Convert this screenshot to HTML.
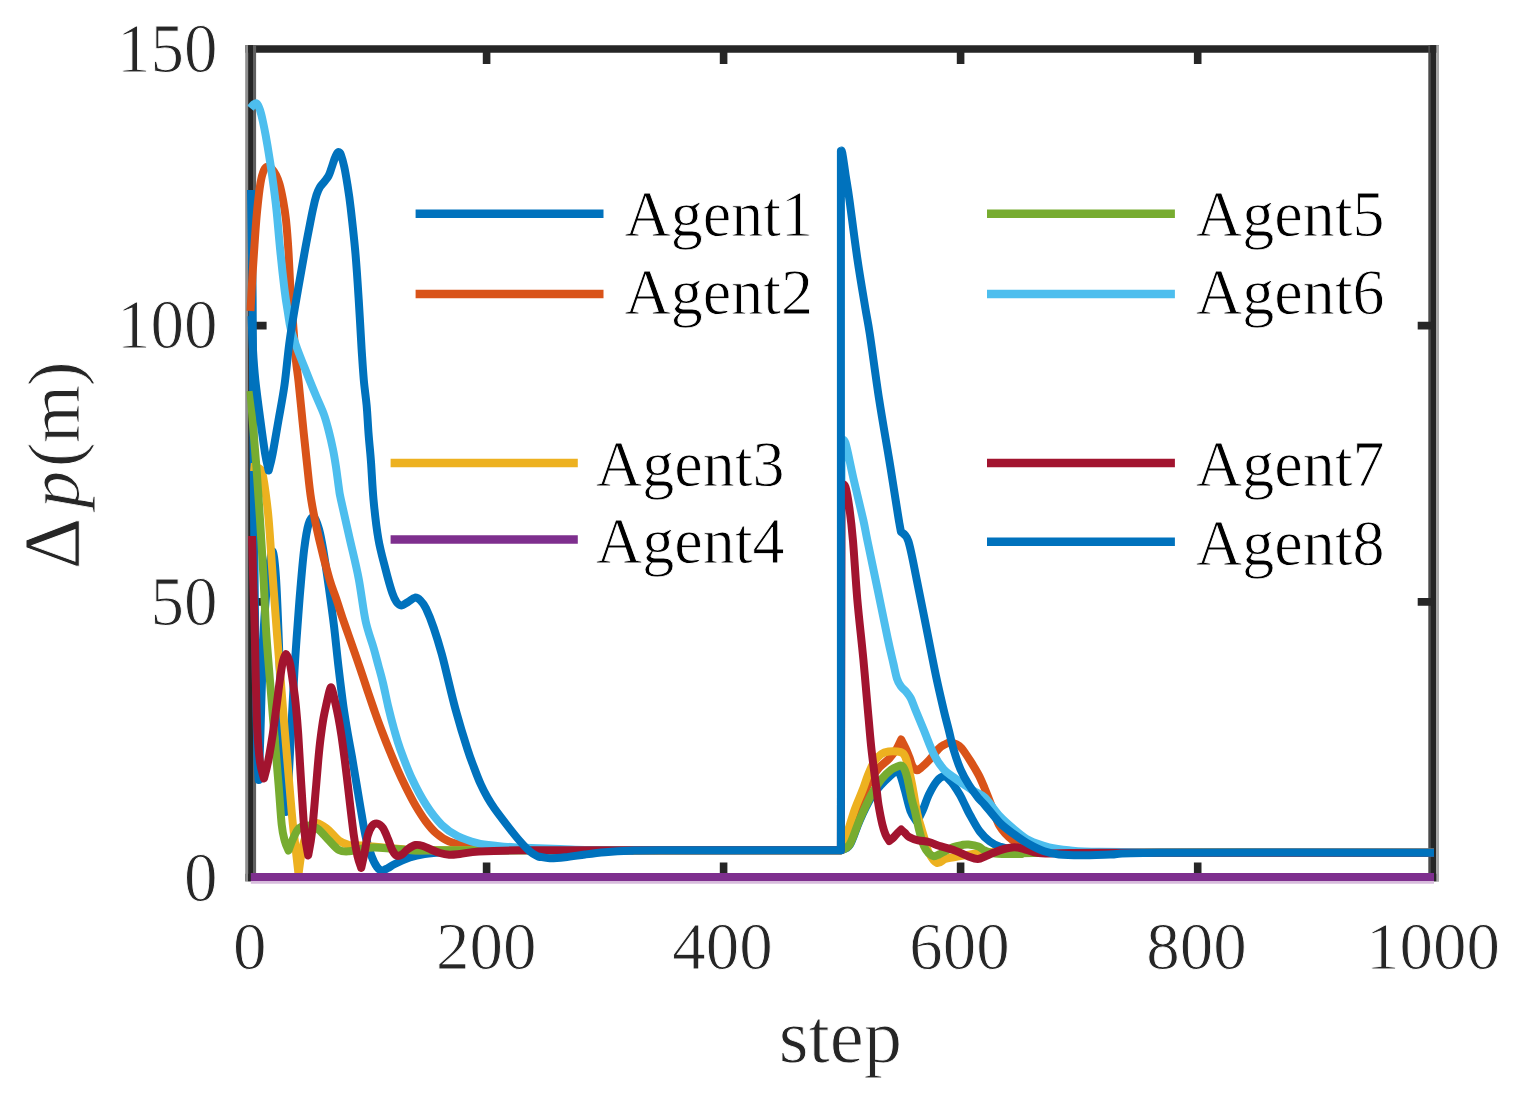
<!DOCTYPE html>
<html lang="en">
<head>
<meta charset="utf-8">
<title>Agent position error vs step</title>
<style>
html,body{margin:0;padding:0;background:#fff;}
body{width:1517px;height:1102px;overflow:hidden;font-family:"Liberation Serif","Times New Roman",serif;}
svg{display:block;filter:blur(0.6px);}
</style>
</head>
<body>
<svg width="1517" height="1102" viewBox="0 0 1517 1102">
<rect width="1517" height="1102" fill="#fff"/>
<g id="axes" fill="none" stroke="#262626">
<path d="M245.2 49H1439M245.2 877.5H1439" stroke-width="7.6"/>
<g stroke="none">
<rect x="245.2" y="45.2" width="3" height="836.1" fill="#8f8f8f"/>
<rect x="248.1" y="45.2" width="5" height="836.1" fill="#262626"/>
<rect x="253" y="45.2" width="3.1" height="836.1" fill="#606060"/>
<rect x="1428.3" y="45.2" width="2" height="836.1" fill="#4a4a4a"/>
<rect x="1430.2" y="45.2" width="6.2" height="836.1" fill="#262626"/>
<rect x="1436.3" y="45.2" width="2.7" height="836.1" fill="#a8a8a8"/>
</g>
<path d="M486.6 49.0 v15.0 M486.6 877.5 v-15.0 M723.6 49.0 v15.0 M723.6 877.5 v-15.0 M960.6 49.0 v15.0 M960.6 877.5 v-15.0 M1197.7 49.0 v15.0 M1197.7 877.5 v-15.0 M250.6 325.6 h16.0 M1433.7 325.6 h-16.0 M250.6 601.9 h16.0 M1433.7 601.9 h-16.0" stroke-width="7.6"/>
</g>
<g id="curves" fill="none" stroke-width="8" stroke-linejoin="round" stroke-linecap="butt">
<path id="agent1" stroke="#0072BD" d="M251.0 190.0C251.3 208.3 252.2 256.7 252.6 300.0C253.0 343.3 253.1 400.0 253.5 450.0C253.9 500.0 254.4 558.3 254.8 600.0C255.2 641.7 255.8 673.3 256.2 700.0C256.6 726.7 257.1 746.7 257.5 760.0C257.9 773.3 258.5 776.7 258.7 780.0L258.7 780.0C258.9 776.2 259.3 764.7 259.6 757.0C259.9 749.3 260.0 746.8 260.4 734.0C260.8 721.2 261.4 698.2 262.0 680.0C262.6 661.8 263.2 640.8 264.0 625.0C264.8 609.2 266.0 595.7 267.0 585.0C268.0 574.3 269.0 566.5 270.0 561.0C271.0 555.5 272.0 549.2 273.0 552.0C274.0 554.8 275.0 563.3 276.0 578.0C277.0 592.7 277.8 614.7 278.8 640.0C279.8 665.3 280.9 705.0 281.8 730.0C282.8 755.0 283.8 776.3 284.5 790.0C285.2 803.7 285.8 808.3 286.0 812.0L286.0 812.0C286.3 808.3 287.2 803.0 288.0 790.0C288.8 777.0 289.9 754.0 291.0 734.0C292.1 714.0 293.4 688.2 294.5 670.0C295.6 651.8 296.6 638.3 297.6 625.0C298.6 611.7 299.2 602.7 300.3 590.0C301.4 577.3 302.8 560.0 304.2 549.0C305.6 538.0 307.0 529.3 308.6 524.0C310.2 518.7 312.3 516.2 314.0 517.0C315.7 517.8 317.5 523.7 319.0 529.0C320.5 534.3 321.4 539.1 323.1 549.0C324.8 558.9 327.2 575.7 329.0 588.5C330.8 601.3 332.4 612.9 334.0 626.0C335.6 639.1 336.9 653.5 338.5 667.0C340.1 680.5 341.9 695.7 343.5 707.0C345.1 718.3 346.6 726.7 348.0 735.0C349.4 743.3 350.6 748.7 352.0 757.0C353.4 765.3 355.1 775.4 356.7 785.0C358.3 794.6 360.1 805.9 361.7 814.7C363.2 823.5 364.4 831.1 366.0 838.0C367.6 844.9 369.7 851.2 371.5 856.0C373.3 860.8 375.2 864.6 377.0 867.0C378.8 869.4 380.2 870.3 382.0 870.5C383.8 870.7 385.9 869.1 388.0 868.0C390.1 866.9 391.2 865.8 394.8 864.0C398.4 862.2 404.8 859.2 409.7 857.5C414.6 855.8 418.6 854.9 424.5 854.0C430.4 853.1 437.4 852.5 445.0 852.0C452.6 851.5 457.5 851.3 470.0 851.0C482.5 850.7 481.7 850.4 520.0 850.3C558.3 850.2 646.5 850.3 700.0 850.3C753.5 850.3 817.4 850.3 840.9 850.3L840.9 850.3C842.4 849.4 846.7 850.0 849.8 845.0C852.9 840.0 856.1 828.5 859.7 820.5C863.3 812.5 867.9 803.0 871.5 797.0C875.1 791.0 878.3 788.0 881.4 784.5C884.5 781.0 887.7 778.1 890.0 776.0C892.3 773.9 893.6 772.8 895.0 772.0C896.4 771.2 897.8 771.2 898.3 771.0L898.3 771.0C898.8 772.0 899.9 773.8 901.0 777.0C902.1 780.2 903.2 784.3 904.8 790.0C906.4 795.7 908.5 805.7 910.5 811.0C912.5 816.3 915.9 820.2 917.0 822.0L917.0 822.0C918.0 820.0 921.0 814.3 923.0 809.7C925.0 805.1 926.6 799.2 928.9 794.5C931.2 789.8 934.3 784.2 936.8 781.2C939.3 778.2 941.7 776.6 943.7 776.3C945.7 776.0 947.4 778.0 949.0 779.5C950.6 781.0 951.8 782.4 953.6 785.0C955.4 787.6 958.1 791.7 960.0 795.0C961.9 798.3 963.3 801.7 965.0 805.0C966.7 808.3 967.5 810.6 970.0 815.0C972.5 819.4 976.5 827.1 979.8 831.5C983.1 835.9 986.4 838.9 989.7 841.4C993.0 843.9 994.6 844.9 999.6 846.5C1004.6 848.1 1009.9 850.0 1020.0 851.0C1030.1 852.0 1030.0 852.4 1060.0 852.7C1090.0 853.0 1137.7 852.7 1200.0 852.7C1262.3 852.7 1395.0 852.7 1434.0 852.7"/>
<path id="agent2" stroke="#D95319" d="M250.5 311.0C250.8 305.0 251.8 286.0 252.5 275.0C253.2 264.0 253.8 255.5 254.5 245.0C255.2 234.5 256.0 222.3 257.0 212.0C258.0 201.7 259.3 190.0 260.5 183.0C261.7 176.0 262.8 172.7 264.0 170.0C265.2 167.3 266.4 166.8 267.7 166.6C269.0 166.4 270.6 167.6 272.0 169.0C273.4 170.4 274.8 172.5 276.0 175.0C277.2 177.5 278.3 179.8 279.5 184.0C280.7 188.2 281.9 194.0 283.0 200.0C284.1 206.0 285.1 211.3 286.0 220.0C286.9 228.7 287.8 240.3 288.5 252.0C289.2 263.7 289.7 277.2 290.5 290.0C291.3 302.8 292.6 317.2 293.5 329.0C294.4 340.8 295.1 352.2 296.0 361.0C296.9 369.8 297.5 372.0 298.6 382.0C299.7 392.0 301.2 408.0 302.5 421.0C303.8 434.0 305.2 446.9 306.6 460.0C308.1 473.1 309.1 486.4 311.2 499.6C313.3 512.8 316.1 525.9 319.1 539.1C322.1 552.3 326.5 568.9 329.3 578.7C332.1 588.5 333.8 591.5 336.0 598.0C338.2 604.5 340.3 611.6 342.5 618.0C344.7 624.4 346.8 630.3 349.0 636.5C351.2 642.7 353.3 648.8 355.5 655.0C357.7 661.2 359.8 667.6 362.0 674.0C364.2 680.4 366.3 687.1 368.5 693.5C370.7 699.9 372.8 706.2 375.0 712.5C377.2 718.8 379.6 725.2 382.0 731.5C384.4 737.8 386.9 744.2 389.5 750.5C392.1 756.8 394.8 763.3 397.5 769.5C400.2 775.7 403.0 781.5 406.0 787.5C409.0 793.5 412.2 799.9 415.5 805.5C418.8 811.1 422.1 816.4 425.5 821.0C428.9 825.6 432.1 829.6 436.0 833.0C439.9 836.4 443.7 839.3 449.2 841.4C454.7 843.5 460.5 844.6 469.0 845.8C477.5 847.0 484.8 847.8 500.0 848.5C515.2 849.2 503.2 850.0 560.0 850.3C616.8 850.6 794.1 850.3 840.9 850.3L840.9 850.3C842.1 848.2 845.5 844.0 848.0 838.0C850.5 832.0 853.3 821.3 856.0 814.0C858.7 806.7 861.5 799.8 864.0 794.0C866.5 788.2 868.4 783.4 871.0 779.0C873.6 774.6 876.4 770.8 879.4 767.4C882.4 764.0 886.4 761.6 889.3 758.5C892.1 755.4 894.5 752.2 896.5 749.0C898.5 745.8 900.4 741.1 901.2 739.5L901.2 739.5C901.9 740.9 904.1 745.1 905.5 748.0C906.9 750.9 908.1 754.0 909.3 757.0C910.5 760.0 911.2 763.8 912.5 766.0C913.8 768.2 915.4 770.1 917.0 770.3C918.6 770.5 920.0 768.6 922.0 767.0C924.0 765.4 926.1 763.5 928.9 760.4C931.7 757.3 936.2 751.2 938.8 748.6C941.4 746.0 942.8 745.5 944.7 744.5C946.6 743.5 948.1 742.6 950.0 742.5C951.9 742.4 954.1 743.1 956.0 744.0C957.9 744.9 959.1 745.2 961.5 748.0C963.9 750.8 967.6 756.6 970.4 761.0C973.2 765.4 976.0 770.0 978.4 774.5C980.8 779.0 982.3 782.8 984.5 788.0C986.7 793.2 989.0 799.2 991.5 805.5C994.0 811.8 996.1 820.2 999.6 826.0C1003.1 831.8 1007.3 836.3 1012.4 840.0C1017.5 843.7 1023.7 846.1 1030.0 848.0C1036.3 849.9 1038.3 850.7 1050.0 851.5C1061.7 852.3 1036.0 852.5 1100.0 852.7C1164.0 852.9 1378.3 852.7 1434.0 852.7"/>
<path id="agent3" stroke="#EDB120" d="M250.5 467.0C251.6 467.1 255.1 466.7 257.0 467.5C258.9 468.3 260.6 467.9 262.0 472.0C263.4 476.1 264.4 484.0 265.5 492.0C266.6 500.0 267.5 506.2 268.7 520.0C269.9 533.8 271.3 556.8 272.6 575.0C273.9 593.2 275.3 611.9 276.6 629.0C277.9 646.1 279.1 660.7 280.5 677.5C281.9 694.3 283.2 712.1 284.7 730.0C286.2 747.9 288.1 770.1 289.4 785.0C290.7 799.9 291.4 809.1 292.4 819.6C293.4 830.1 294.6 838.9 295.6 848.0C296.6 857.1 298.0 869.7 298.5 874.0L298.5 874.0C299.1 870.0 300.8 856.2 302.0 850.0C303.2 843.8 304.0 841.0 305.5 837.0C307.0 833.0 309.1 828.3 311.0 826.0C312.9 823.7 315.0 823.0 317.0 823.0C319.0 823.0 321.0 824.8 323.0 826.0C325.0 827.2 326.4 828.1 329.0 830.5C331.6 832.9 335.6 838.0 338.9 840.4C342.2 842.8 345.0 843.9 348.8 844.8C352.6 845.6 353.2 844.8 361.7 845.5C370.2 846.2 385.3 848.2 400.0 849.0C414.7 849.8 376.5 850.1 450.0 850.3C523.5 850.5 775.8 850.3 840.9 850.3L840.9 850.3C841.9 847.7 844.5 841.3 846.8 834.5C849.1 827.7 852.1 817.1 854.7 809.7C857.3 802.3 860.5 795.6 862.6 790.0C864.8 784.4 865.7 780.7 867.6 776.0C869.5 771.3 871.7 765.7 874.0 762.0C876.3 758.3 878.9 755.8 881.4 754.0C883.9 752.2 886.4 751.9 889.0 751.5C891.6 751.1 894.6 751.2 897.0 751.5C899.4 751.8 901.6 752.0 903.2 753.5C904.8 755.0 905.3 756.2 906.6 760.5C907.9 764.8 909.8 773.6 911.0 779.2C912.2 784.8 912.8 788.2 913.8 794.0C914.8 799.8 916.1 808.3 917.3 813.8C918.5 819.3 919.8 823.0 921.0 827.0C922.2 831.0 923.0 833.7 924.3 838.0C925.6 842.3 926.9 848.8 929.0 853.0C931.1 857.2 934.3 862.0 937.0 863.0C939.7 864.0 942.2 860.0 945.0 859.0C947.8 858.0 948.4 858.1 953.6 857.2C958.8 856.3 968.7 854.4 976.4 853.5C984.1 852.6 979.4 852.1 1000.0 852.0C1020.6 851.9 1027.7 852.6 1100.0 852.7C1172.3 852.8 1378.3 852.7 1434.0 852.7"/>
<path id="agent4" stroke="#7E2F8E" d="M250.8 877.0C448.0 877.0 1236.8 877.0 1434.0 877.0"/>
<path id="agent5" stroke="#77AC30" d="M250.5 391.0C250.9 396.7 252.0 412.2 253.0 425.0C254.0 437.8 255.3 452.2 256.5 468.0C257.7 483.8 258.8 501.2 260.0 519.5C261.2 537.8 262.5 559.8 263.5 578.0C264.5 596.2 265.0 612.4 266.0 629.0C267.0 645.6 268.4 660.7 269.7 677.5C271.0 694.3 272.5 712.1 274.0 730.0C275.5 747.9 277.3 769.2 278.6 785.0C279.9 800.8 280.7 815.3 281.7 824.6C282.7 833.9 283.7 836.7 284.8 841.0C285.9 845.3 287.9 848.9 288.5 850.5L288.5 850.5C289.2 848.8 291.0 843.4 292.5 840.0C294.0 836.6 295.9 832.2 297.5 830.0C299.1 827.8 300.4 827.2 302.0 826.5C303.6 825.8 305.2 825.5 307.0 825.5C308.8 825.5 311.1 825.8 313.0 826.5C314.9 827.2 316.8 828.1 318.6 829.5C320.4 830.9 322.3 833.2 324.0 835.0C325.7 836.8 326.5 837.9 329.0 840.4C331.5 842.9 335.6 848.2 338.9 850.0C342.2 851.8 345.3 851.5 348.8 851.3C352.3 851.1 355.9 849.6 360.0 849.0C364.1 848.4 369.1 847.6 373.5 847.5C377.9 847.4 378.6 847.8 386.4 848.3C394.1 848.8 407.7 850.2 420.0 850.5C432.3 850.8 389.9 850.3 460.0 850.3C530.1 850.3 777.4 850.3 840.9 850.3L840.9 850.3C842.4 849.3 846.7 849.4 849.8 844.3C852.9 839.2 856.1 827.9 859.7 819.6C863.3 811.3 867.9 801.2 871.5 794.5C875.1 787.8 878.1 783.4 881.4 779.2C884.7 775.1 888.6 771.7 891.3 769.6C894.0 767.5 895.8 767.2 897.5 766.5C899.2 765.8 900.4 765.0 901.6 765.6C902.8 766.2 903.8 767.7 904.8 770.0C905.8 772.3 906.5 774.5 907.6 779.2C908.7 783.9 910.2 792.8 911.4 798.0C912.6 803.2 913.5 805.2 914.8 810.5C916.1 815.8 917.5 823.5 919.0 829.5C920.5 835.5 922.3 842.3 924.0 846.3C925.7 850.3 927.4 851.9 929.0 853.5C930.6 855.1 932.2 856.0 933.9 856.2C935.6 856.4 937.4 855.2 939.0 854.5C940.6 853.8 941.3 853.2 943.7 852.0C946.1 850.8 950.6 848.2 953.6 847.0C956.6 845.8 959.5 845.4 962.0 845.0C964.5 844.6 965.8 844.2 968.5 844.5C971.2 844.8 975.7 845.5 978.4 846.5C981.1 847.5 981.9 849.3 984.7 850.5C987.5 851.7 989.1 852.9 995.0 853.5C1000.9 854.1 1009.2 854.1 1020.0 854.0C1030.8 853.9 991.0 852.9 1060.0 852.7C1129.0 852.5 1371.7 852.7 1434.0 852.7"/>
<path id="agent6" stroke="#4DBEEE" d="M250.5 108.2C251.0 107.6 252.4 105.3 253.5 104.5C254.6 103.7 255.7 102.6 256.8 103.5C257.9 104.4 259.0 106.9 260.0 110.0C261.0 113.1 262.1 117.8 263.0 122.0C263.9 126.2 264.7 130.0 265.7 135.5C266.7 141.0 267.9 147.8 269.0 155.0C270.1 162.2 271.4 169.8 272.6 179.0C273.9 188.2 275.3 198.5 276.5 210.0C277.7 221.5 278.7 234.7 280.0 248.0C281.3 261.3 283.2 278.8 284.5 289.6C285.8 300.4 286.9 306.4 288.0 313.0C289.1 319.6 289.2 323.0 290.8 329.0C292.4 335.0 294.5 341.3 297.3 349.0C300.1 356.7 304.4 367.1 307.5 375.0C310.6 382.9 313.4 389.6 316.2 396.3C319.0 403.0 322.0 409.1 324.1 415.0C326.2 420.9 327.5 426.2 329.0 432.0C330.5 437.8 331.8 443.7 333.0 449.5C334.2 455.3 335.0 460.4 336.0 467.0C337.0 473.6 338.2 483.6 339.0 489.0C339.8 494.4 339.1 491.2 340.9 499.6C342.7 508.0 346.8 525.9 349.8 539.1C352.8 552.3 356.1 565.1 358.7 578.7C361.3 592.4 363.1 609.5 365.6 621.0C368.1 632.5 371.5 640.5 373.6 648.0C375.8 655.5 376.9 660.2 378.5 666.0C380.1 671.8 381.4 676.2 383.0 683.0C384.6 689.8 386.5 699.3 388.3 707.0C390.1 714.7 392.0 722.0 394.0 729.0C396.0 736.0 397.2 740.8 400.2 749.1C403.2 757.4 407.7 769.6 412.0 778.8C416.3 788.0 420.9 796.8 425.9 804.5C430.8 812.2 436.4 819.5 441.7 824.8C447.0 830.0 451.6 833.0 457.5 836.0C463.4 839.0 470.7 841.3 477.3 843.0C483.9 844.7 490.5 845.2 497.1 846.0C503.7 846.8 506.4 847.0 516.9 847.5C527.4 848.0 542.8 848.5 560.0 849.0C577.2 849.5 573.2 850.1 620.0 850.3C666.8 850.5 804.1 850.3 840.9 850.3L840.9 850.3C841.0 782.1 841.4 509.2 841.5 441.0L841.5 441.0C842.2 441.3 843.5 436.8 845.5 443.0C847.5 449.2 850.4 465.5 853.4 478.3C856.4 491.1 860.9 509.6 863.3 520.0C865.6 530.5 865.1 529.4 867.5 541.0C869.9 552.6 874.2 573.1 877.6 589.4C881.0 605.7 885.1 626.5 887.8 638.9C890.4 651.3 892.0 657.4 893.5 664.0C895.0 670.6 895.7 674.7 896.9 678.4C898.1 682.1 899.4 684.1 900.9 686.3C902.4 688.5 904.4 689.5 906.0 691.5C907.6 693.5 909.1 695.1 910.7 698.2C912.3 701.3 913.3 704.7 915.5 710.0C917.7 715.3 920.6 722.4 923.7 729.8C926.8 737.2 930.6 747.9 933.9 754.5C937.2 761.1 940.4 765.5 943.7 769.3C947.0 773.1 950.3 774.8 953.6 777.3C956.9 779.8 960.4 782.1 963.5 784.2C966.6 786.3 968.5 787.8 972.0 790.0C975.5 792.2 980.1 793.2 984.7 797.5C989.3 801.8 994.7 810.7 999.6 816.0C1004.5 821.3 1009.5 825.4 1014.4 829.5C1019.3 833.6 1023.4 837.4 1029.2 840.4C1035.0 843.4 1042.4 845.6 1049.0 847.3C1055.6 848.9 1060.3 849.5 1068.8 850.3C1077.3 851.0 1078.1 851.4 1100.0 851.8C1121.9 852.2 1144.3 852.6 1200.0 852.7C1255.7 852.9 1395.0 852.7 1434.0 852.7"/>
<path id="agent7" stroke="#A2142F" d="M252.0 536.0C252.2 543.3 252.8 565.2 253.2 580.0C253.6 594.8 254.2 608.3 254.6 625.0C255.0 641.7 255.4 662.5 255.8 680.0C256.2 697.5 256.6 716.3 257.3 730.0C258.0 743.7 258.9 753.9 260.0 762.0C261.1 770.1 263.3 775.8 264.0 778.5L264.0 778.5C264.7 775.8 266.5 769.5 268.0 762.0C269.5 754.5 271.3 743.4 272.8 733.8C274.3 724.1 275.7 712.4 276.8 704.1C277.9 695.9 278.4 690.9 279.3 684.3C280.2 677.7 281.4 669.1 282.2 664.6C283.0 660.1 283.7 658.7 284.3 657.0C284.9 655.3 285.7 654.7 286.0 654.2L286.0 654.2C286.3 654.7 287.1 655.3 287.8 657.0C288.5 658.7 289.3 660.1 290.2 664.6C291.1 669.1 292.3 677.7 293.2 684.3C294.1 690.9 294.9 695.9 295.7 704.1C296.5 712.4 297.3 720.3 298.2 733.8C299.1 747.3 300.2 768.6 301.3 785.0C302.4 801.4 303.4 820.2 304.5 832.0C305.6 843.8 307.6 851.6 308.2 855.5L308.2 855.5C308.8 851.6 310.7 843.8 312.0 832.0C313.3 820.2 315.1 797.0 316.2 785.0C317.2 773.0 317.6 767.8 318.3 760.0C319.0 752.2 319.7 745.0 320.6 738.0C321.5 731.0 322.5 723.6 323.5 718.0C324.5 712.4 325.5 708.1 326.4 704.1C327.3 700.1 328.1 696.6 328.7 694.0C329.3 691.4 329.8 689.6 330.2 688.5C330.6 687.4 330.7 687.3 331.0 687.3C331.3 687.3 331.4 687.4 331.8 688.5C332.2 689.6 332.7 691.4 333.3 694.0C333.9 696.6 334.7 700.1 335.6 704.1C336.5 708.1 337.5 712.7 338.5 718.0C339.5 723.3 340.5 729.3 341.5 736.0C342.5 742.7 343.4 749.8 344.5 758.0C345.6 766.2 346.3 772.2 347.8 785.0C349.3 797.8 352.1 822.7 353.7 834.5C355.3 846.3 356.2 850.4 357.5 856.0C358.8 861.6 360.6 866.0 361.2 868.0L361.2 868.0C361.8 865.5 363.4 858.3 364.5 853.0C365.6 847.7 366.4 840.5 367.6 836.0C368.9 831.5 370.4 828.1 372.0 826.0C373.6 823.9 375.7 823.3 377.5 823.6C379.3 823.9 381.2 825.4 383.0 828.0C384.8 830.6 386.4 835.2 388.0 839.0C389.6 842.8 391.0 847.7 392.5 850.5C394.0 853.3 395.2 855.0 396.8 855.7C398.4 856.4 400.1 855.6 402.0 854.5C403.9 853.4 405.7 850.6 408.0 849.0C410.3 847.4 413.1 845.5 415.6 845.0C418.1 844.5 420.4 845.2 423.0 846.0C425.6 846.8 428.2 848.3 431.0 849.5C433.8 850.7 437.0 852.1 440.0 853.0C443.0 853.9 445.9 854.5 449.2 854.7C452.5 854.9 455.1 854.5 460.0 854.0C464.9 853.5 469.1 852.1 478.9 851.5C488.6 850.9 498.3 850.5 518.5 850.3C538.7 850.1 546.3 850.3 600.0 850.3C653.7 850.3 800.8 850.3 840.9 850.3L840.9 850.3C841.0 789.3 841.4 545.5 841.5 484.5L841.5 484.5C842.2 484.9 844.2 483.1 845.5 487.0C846.8 490.9 848.1 499.0 849.4 508.0C850.6 517.0 851.7 525.8 853.0 541.0C854.3 556.2 855.6 579.7 857.3 599.3C859.0 618.9 861.5 639.6 863.3 658.7C865.1 677.8 866.8 698.9 868.2 714.0C869.6 729.1 870.1 737.1 871.5 749.6C872.9 762.1 875.3 779.9 876.5 789.1C877.7 798.3 877.5 798.9 878.5 804.8C879.5 810.7 881.2 819.6 882.4 824.6C883.6 829.6 884.4 831.8 885.5 834.5C886.6 837.2 888.7 839.9 889.3 841.0L889.3 841.0C890.0 840.4 892.1 838.8 893.5 837.5C894.9 836.2 896.2 834.3 897.5 833.0C898.8 831.7 900.6 830.1 901.2 829.5L901.2 829.5C901.8 830.1 903.7 831.8 905.0 833.0C906.3 834.2 906.9 835.8 909.1 837.0C911.3 838.2 914.7 839.5 918.0 840.3C921.3 841.1 925.4 841.1 928.9 842.0C932.4 842.9 934.7 844.5 938.8 845.8C942.9 847.1 948.6 848.2 953.6 850.0C958.6 851.8 964.5 855.0 968.5 856.5C972.5 858.0 974.9 859.1 977.8 859.0C980.7 858.9 983.2 857.1 986.0 856.0C988.8 854.9 991.6 853.5 994.6 852.3C997.6 851.1 1000.7 849.8 1004.0 849.0C1007.3 848.2 1011.1 847.3 1014.4 847.3C1017.7 847.3 1020.7 848.2 1024.0 849.0C1027.3 849.8 1029.9 851.5 1034.2 852.3C1038.5 853.0 1039.0 853.4 1050.0 853.5C1061.0 853.6 1036.0 852.8 1100.0 852.7C1164.0 852.6 1378.3 852.7 1434.0 852.7"/>
<path id="agent8" stroke="#0072BD" d="M251.5 316.0C251.8 321.7 252.4 339.3 253.0 350.0C253.6 360.7 254.1 368.4 255.3 380.0C256.5 391.6 258.7 407.4 260.3 419.6C261.9 431.8 263.6 444.5 265.0 453.0C266.4 461.5 268.1 467.6 268.7 470.5L268.7 470.5C269.4 467.8 271.0 462.5 272.6 454.0C274.2 445.5 276.6 431.1 278.6 419.6C280.6 408.1 282.6 398.4 284.5 385.0C286.4 371.6 287.6 354.9 289.9 339.0C292.1 323.1 295.6 303.8 298.0 289.6C300.4 275.4 302.5 264.1 304.3 254.0C306.1 243.9 307.5 236.7 309.0 229.0C310.5 221.3 311.9 213.8 313.2 208.1C314.4 202.4 315.4 198.5 316.5 195.0C317.6 191.5 318.7 189.2 320.0 187.0C321.3 184.8 323.1 183.3 324.5 181.5C325.9 179.7 327.3 178.2 328.5 176.0C329.7 173.8 330.5 170.8 331.5 168.0C332.5 165.2 333.6 161.4 334.5 159.0C335.4 156.6 336.3 154.7 337.0 153.5C337.7 152.3 338.2 151.8 338.9 152.1C339.6 152.3 340.1 152.5 341.0 155.0C341.9 157.5 343.2 162.0 344.3 167.0C345.4 172.0 346.4 178.2 347.5 185.0C348.6 191.8 349.4 196.6 350.7 208.1C352.0 219.6 354.2 238.8 355.5 254.0C356.8 269.2 357.7 283.6 358.7 299.4C359.7 315.2 360.8 335.5 361.6 348.9C362.5 362.3 363.0 370.6 363.8 380.0C364.6 389.4 365.8 396.2 366.6 405.0C367.4 413.8 367.8 423.5 368.5 433.0C369.2 442.5 370.2 450.9 371.0 462.0C371.8 473.1 372.3 486.8 373.5 499.6C374.7 512.5 376.4 527.6 378.4 539.1C380.4 550.6 383.1 559.8 385.4 568.8C387.7 577.8 390.4 587.5 392.3 593.0C394.2 598.5 395.0 599.9 396.5 602.0C398.0 604.1 399.3 605.4 401.2 605.4C403.1 605.4 405.7 603.3 408.0 602.0C410.3 600.7 412.9 597.9 415.0 597.6C417.1 597.4 418.7 598.7 420.5 600.5C422.3 602.3 423.7 603.7 425.9 608.3C428.1 612.9 431.2 620.5 433.8 628.1C436.4 635.7 439.6 646.3 441.7 653.8C443.8 661.3 444.2 663.7 446.5 673.0C448.8 682.3 452.1 696.9 455.6 709.6C459.1 722.3 464.3 739.5 467.4 749.1C470.5 758.8 471.8 761.6 474.0 767.5C476.2 773.4 478.6 779.7 480.9 784.7C483.1 789.7 485.2 793.5 487.5 797.5C489.8 801.5 491.3 804.0 494.5 808.5C497.7 813.0 502.6 819.4 506.6 824.6C510.6 829.8 514.6 835.0 518.5 839.5C522.4 844.0 526.8 848.7 530.0 851.5C533.2 854.3 536.3 855.6 538.0 856.5C539.7 857.4 538.0 856.5 540.0 856.8C542.0 857.1 545.5 858.1 549.7 858.2C553.9 858.3 559.1 857.9 565.0 857.3C570.9 856.7 578.3 855.4 585.0 854.5C591.7 853.6 597.5 852.8 605.0 852.2C612.5 851.6 620.8 851.1 630.0 850.8C639.2 850.5 624.9 850.4 660.0 850.3C695.1 850.2 810.8 850.3 840.9 850.3L840.9 850.3C840.9 733.8 840.9 267.6 840.9 151.0L840.9 151.0C841.1 151.3 841.5 149.0 842.3 153.0C843.1 157.0 844.4 167.0 845.6 175.0C846.8 183.0 847.7 187.1 849.6 201.0C851.5 214.9 854.7 240.6 857.3 258.4C859.9 276.2 863.2 295.3 865.3 307.9C867.4 320.5 867.5 318.8 869.8 334.0C872.1 349.2 875.9 378.4 879.1 399.2C882.3 419.9 886.0 440.4 889.0 458.5C892.0 476.6 895.1 497.1 896.9 508.0C898.6 518.9 898.8 520.0 899.5 524.0C900.2 528.0 900.7 530.4 900.9 531.7L900.9 531.7C902.1 533.2 905.7 533.0 908.3 541.0C910.9 549.0 913.7 564.9 916.7 579.6C919.8 594.3 923.3 612.5 926.6 629.0C929.9 645.5 933.6 664.9 936.5 678.4C939.4 691.9 941.7 701.4 943.7 710.0C945.7 718.6 947.1 723.2 948.7 729.8C950.4 736.4 951.6 743.0 953.6 749.6C955.6 756.2 957.9 763.4 960.5 769.3C963.1 775.2 966.0 780.2 969.0 785.0C972.0 789.8 975.7 794.7 978.3 798.0C980.9 801.3 981.2 800.7 984.7 804.8C988.2 808.9 994.7 817.6 999.6 822.6C1004.5 827.6 1009.5 830.9 1014.4 834.5C1019.3 838.1 1024.2 841.5 1029.2 844.3C1034.2 847.1 1039.1 849.6 1044.1 851.3C1049.0 853.0 1052.9 853.8 1058.9 854.4C1064.9 855.0 1071.5 855.2 1080.0 855.2C1088.5 855.2 1096.7 854.9 1110.0 854.5C1123.3 854.1 1106.0 853.0 1160.0 852.7C1214.0 852.4 1388.3 852.7 1434.0 852.7"/>
</g>
<path d="M250.8 882.4H1434" stroke="#d7bcdc" stroke-width="2.6" fill="none"/>
<g id="legend" fill="none" stroke-width="8.5">
<path stroke="#0072BD" d="M415.6 213.7H603.5"/>
<path stroke="#D95319" d="M415.6 293.9H603.5"/>
<path stroke="#EDB120" d="M390.6 463.1H577.8"/>
<path stroke="#7E2F8E" d="M390.6 539.4H577.8"/>
<path stroke="#77AC30" d="M987.0 213.7H1174.9"/>
<path stroke="#4DBEEE" d="M987.0 294.1H1174.9"/>
<path stroke="#A2142F" d="M987.0 463.1H1174.9"/>
<path stroke="#0072BD" d="M987.0 541.8H1174.9"/>
</g>
<g id="legendtext" font-family="'Liberation Serif','Times New Roman',serif" font-size="66" fill="#000" stroke="#fff" stroke-width="0.9">
<text transform="translate(624.6 236.3) scale(0.97 1)">Agent1</text>
<text transform="translate(624.6 314.3) scale(0.97 1)">Agent2</text>
<text transform="translate(596.0 486.2) scale(0.97 1)">Agent3</text>
<text transform="translate(596.0 562.5) scale(0.97 1)">Agent4</text>
<text transform="translate(1196.0 236.3) scale(0.97 1)">Agent5</text>
<text transform="translate(1196.0 314.3) scale(0.97 1)">Agent6</text>
<text transform="translate(1196.0 486.0) scale(0.97 1)">Agent7</text>
<text transform="translate(1196.0 564.8) scale(0.97 1)">Agent8</text>
</g>
<g id="ticklabels" font-family="'Liberation Serif','Times New Roman',serif" font-size="67" fill="#262626" stroke="#fff" stroke-width="0.9">
<text transform="translate(217.6 72.1) scale(1 1.05)" text-anchor="end">150</text>
<text transform="translate(217.6 348.4) scale(1 1.05)" text-anchor="end">100</text>
<text transform="translate(217.6 624.7) scale(1 1.05)" text-anchor="end">50</text>
<text transform="translate(217.6 900.8) scale(1 1.05)" text-anchor="end">0</text>
<text x="249.8" y="968.7" text-anchor="middle">0</text>
<text x="486.2" y="968.7" text-anchor="middle">200</text>
<text x="722.6" y="968.7" text-anchor="middle">400</text>
<text x="959.6" y="968.7" text-anchor="middle">600</text>
<text x="1196.6" y="968.7" text-anchor="middle">800</text>
<text x="1433.0" y="968.7" text-anchor="middle">1000</text>
</g>
<g id="axislabels" font-family="'Liberation Serif','Times New Roman',serif" font-size="75" fill="#262626" stroke="#fff" stroke-width="0.9">
<text x="840.4" y="1061.8" text-anchor="middle" font-size="76.5">step</text>
<text transform="translate(79 569.2) rotate(-90)"><tspan x="0" font-size="80">Δ</tspan><tspan x="61" font-style="italic">p</tspan><tspan x="102">(</tspan><tspan x="126">m</tspan><tspan x="183">)</tspan></text>
</g>
</svg>
</body>
</html>
